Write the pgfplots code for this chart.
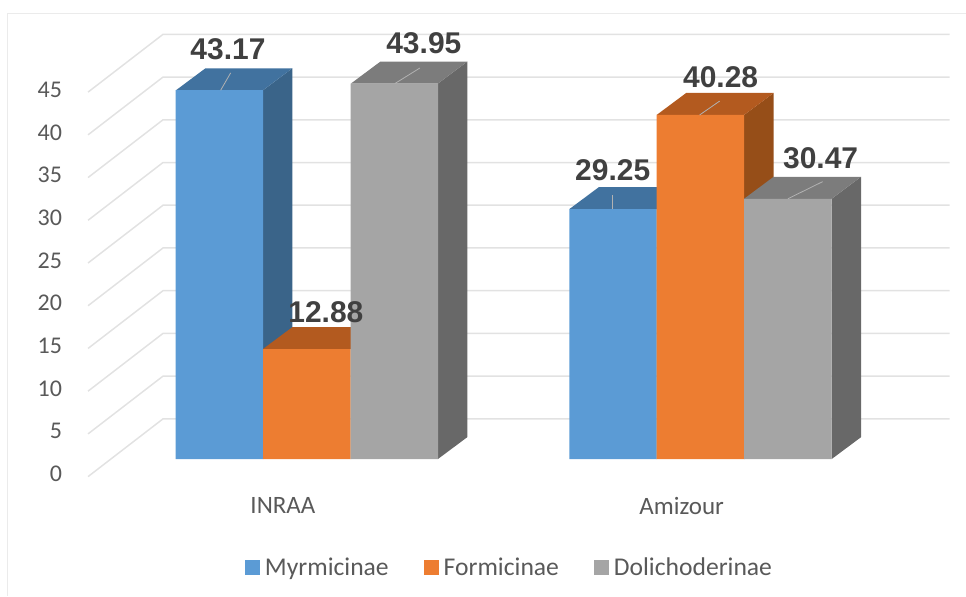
\documentclass[border=0pt]{standalone}
\usepackage{pgfplots}
\pgfplotsset{compat=1.18}
\usepackage{fontspec}
\setmainfont{Carlito}
\newfontfamily\lab{Liberation Sans}
\definecolor{bluef}{HTML}{5B9BD5}\definecolor{bluet}{HTML}{41729F}\definecolor{blues}{HTML}{3A6489}
\definecolor{orf}{HTML}{ED7D31}\definecolor{ort}{HTML}{B35A1F}\definecolor{ors}{HTML}{964E18}
\definecolor{grf}{HTML}{A5A5A5}\definecolor{grt}{HTML}{7C7C7C}\definecolor{grs}{HTML}{686868}
\definecolor{gridc}{HTML}{E2E2E2}\definecolor{tickc}{HTML}{595959}\definecolor{labc}{HTML}{404040}
\begin{document}
\begin{tikzpicture}
\begin{axis}[
  scale only axis, width=966pt, height=596pt,
  xmin=0, xmax=966, ymin=-15.99, ymax=53.72,
  clip=false, axis line style={draw=none}, major tick length=0pt,
  ytick={0,5,10,15,20,25,30,35,40,45},
  xtick={283,682}, xticklabels={INRAA,Amizour},
  tick label style={text=tickc},
  /pgf/number format/assume math mode=true,
  yticklabel style={font=\fontsize{24}{28}\selectfont, xshift=65.5pt, yshift=-15pt},
  xticklabel style={font=\fontsize{25}{29}\selectfont, yshift=102pt},
  legend style={at={(axis cs:245,-12.7)}, anchor=west, draw=none, fill=none,
    legend columns=3, font=\fontsize{25.6}{29}\selectfont, text=tickc,
    inner sep=0pt, outer sep=0pt,
    /tikz/every even column/.append style={column sep=33pt},
    /tikz/every odd column/.append style={column sep=3pt}},
  legend image code/.code={\fill[#1] (0pt,-7.5pt) rectangle (15pt,7.5pt);},
]
% frame
\addplot[forget plot, draw=black!8, line width=1pt] coordinates {(7.5,-15.99)(7.5,52.2)(966,52.2)};
% grid
\pgfplotsforeachungrouped \k in {0,5,...,45}{
  \addplot[forget plot, draw=gridc, line width=1.5pt] coordinates {(88,\k-2.05)(163,\k+4.71)(950,\k+4.71)};
}
% Myrmicinae
\addplot[forget plot, fill=blues, draw=none] coordinates {(263,0)(292.5,2.57)(292.5,45.74)(263,43.17)} --cycle;
\addplot[forget plot, fill=bluet, draw=none] coordinates {(176,43.17)(205.5,45.74)(292.5,45.74)(263,43.17)} --cycle;
\addplot[forget plot, fill=blues, draw=none] coordinates {(657,0)(686.5,2.57)(686.5,31.82)(657,29.25)} --cycle;
\addplot[forget plot, fill=bluet, draw=none] coordinates {(569.5,29.25)(599,31.82)(686.5,31.82)(657,29.25)} --cycle;
\addplot[ybar, bar width=87.5, bar shift=0pt, fill=bluef, draw=none] coordinates {(219.5,43.17)(613.25,29.25)};
\addlegendentry{Myrmicinae}
\addplot[forget plot, draw=black!30, line width=0.8pt] coordinates {(220.7,43.17)(230.7,45.2)};
\addplot[forget plot, draw=black!30, line width=0.8pt] coordinates {(612.5,29.25)(612.5,30.9)};
% Formicinae
\addplot[forget plot, fill=ors, draw=none] coordinates {(351,0)(380.5,2.57)(380.5,15.45)(351,12.88)} --cycle;
\addplot[forget plot, fill=ort, draw=none] coordinates {(263,12.88)(292.5,15.45)(380.5,15.45)(351,12.88)} --cycle;
\addplot[forget plot, fill=ors, draw=none] coordinates {(744.5,0)(774,2.57)(774,42.85)(744.5,40.28)} --cycle;
\addplot[forget plot, fill=ort, draw=none] coordinates {(657,40.28)(686.5,42.85)(774,42.85)(744.5,40.28)} --cycle;
\addplot[ybar, bar width=87.5, bar shift=0pt, fill=orf, draw=none] coordinates {(307,12.88)(700.75,40.28)};
\addlegendentry{Formicinae}
\addplot[forget plot, draw=black!30, line width=0.8pt] coordinates {(700,40.28)(720,41.9)};
% Dolichoderinae
\addplot[forget plot, fill=grs, draw=none] coordinates {(438,0)(467.5,2.57)(467.5,46.52)(438,43.95)} --cycle;
\addplot[forget plot, fill=grt, draw=none] coordinates {(351,43.95)(380.5,46.52)(467.5,46.52)(438,43.95)} --cycle;
\addplot[forget plot, fill=grs, draw=none] coordinates {(832,0)(861.5,2.57)(861.5,33.04)(832,30.47)} --cycle;
\addplot[forget plot, fill=grt, draw=none] coordinates {(744.5,30.47)(774,33.04)(861.5,33.04)(832,30.47)} --cycle;
\addplot[ybar, bar width=87.5, bar shift=0pt, fill=grf, draw=none] coordinates {(394.5,43.95)(788.25,30.47)};
\addlegendentry{Dolichoderinae}
\addplot[forget plot, draw=black!30, line width=0.8pt] coordinates {(395,43.95)(420,45.77)};
\addplot[forget plot, draw=black!30, line width=0.8pt] coordinates {(788.3,30.47)(823,32.47)};
% labels
\begingroup
\def\L#1#2#3{\node[font=\lab\bfseries\fontsize{30}{33}\selectfont, text=labc, inner sep=0pt] at (axis cs:#1,#2) {#3};}
\L{228}{48.0}{43.17}
\L{424}{48.7}{43.95}
\L{326}{17.23}{12.88}
\L{613}{33.84}{29.25}
\L{721}{44.72}{40.28}
\L{821}{35.24}{30.47}
\endgroup
\end{axis}
\end{tikzpicture}
\end{document}
